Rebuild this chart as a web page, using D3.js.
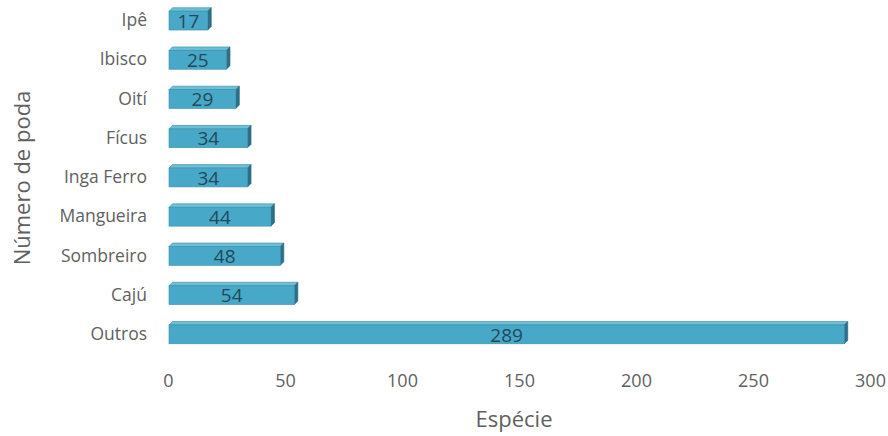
<!DOCTYPE html>
<html><head><meta charset="utf-8">
<script src="https://cdn.jsdelivr.net/npm/d3@7"></script>
<style>body{margin:0;background:#fff}svg{display:block}</style>
</head><body><div id="chart"></div>
<script>
const categories = ["Ipê","Ibisco","Oití","Fícus","Inga Ferro","Mangueira","Sombreiro","Cajú","Outros"];
const values = [17,25,29,34,34,44,48,54,289];
const xTicks = [0,50,100,150,200,250,300];
const xTitle = "Espécie";
const yTitle = "Número de poda";

const W = 888, H = 436;
const svg = d3.select("#chart").append("svg").attr("width", W).attr("height", H);
const font = "'Open Sans', 'Noto Sans', sans-serif";

const x = d3.scaleLinear().domain([0,300]).range([168,870]);
const y = d3.scaleBand().domain(categories).range([1,354]).paddingInner(0.52).paddingOuter(0.26);
const depth = 3.5;

const g = svg.append("g");
const bars = g.selectAll("g.bar").data(categories).join("g").attr("class","bar");
bars.each(function(c,i){
  const sel = d3.select(this);
  const x0 = x(0)+1, x1 = x(values[i]);
  const y0 = y(c), h = y.bandwidth();
  sel.append("path").attr("d", `M${x0},${y0} L${x0+depth},${y0-depth} L${x1+depth},${y0-depth} L${x1},${y0} Z`)
    .attr("fill","#6cbfd6").attr("stroke","#3a8aa3").attr("stroke-width",0.6);
  sel.append("path").attr("d", `M${x1},${y0} L${x1+depth},${y0-depth} L${x1+depth},${y0+h-depth} L${x1},${y0+h} Z`)
    .attr("fill","#2c6f86").attr("stroke","#2a6a80").attr("stroke-width",0.6);
  sel.append("rect").attr("x",x0).attr("y",y0).attr("width",x1-x0).attr("height",h)
    .attr("fill","#47a9c7").attr("stroke","#3b8eab").attr("stroke-width",0.6);
  sel.append("text").attr("x",(x0+x1)/2).attr("y",y0+h/2).attr("dy","0.38em")
    .attr("text-anchor","middle").attr("font-family",font).attr("font-size",19)
    .attr("fill","#24485a").text(values[i]);
});

const yAxis = d3.axisLeft(y).tickSize(0).tickPadding(0);
const ya = svg.append("g").attr("transform","translate(147,0)").call(yAxis);
ya.select(".domain").remove();
ya.selectAll("text").attr("font-family",font).attr("font-size",17.5).attr("fill","#5f5f5f");

const xAxis = d3.axisBottom(x).tickValues(xTicks).tickSize(0).tickPadding(0);
const xa = svg.append("g").attr("transform","translate(0,374)").call(xAxis);
xa.select(".domain").remove();
xa.selectAll("text").attr("font-family",font).attr("font-size",18).attr("fill","#5f5f5f");

svg.append("text").attr("x",514).attr("y",427).attr("text-anchor","middle")
  .attr("font-family",font).attr("font-size",22).attr("fill","#5f5f5f").text(xTitle);
svg.append("text").attr("transform","translate(30,178) rotate(-90)").attr("text-anchor","middle")
  .attr("font-family",font).attr("font-size",22).attr("fill","#5f5f5f").text(yTitle);
</script></body></html>
